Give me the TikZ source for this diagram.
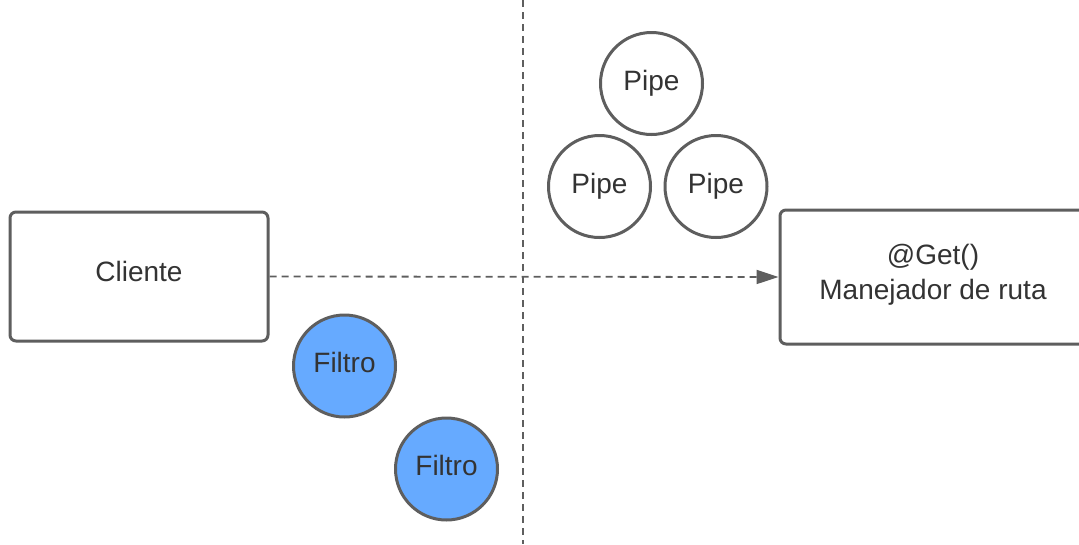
\documentclass[tikz,border=0pt]{standalone}
\usepackage{fontspec}
\setmainfont{Liberation Sans}
\usetikzlibrary{arrows.meta}
\definecolor{edge}{HTML}{5E5E5E}
\definecolor{ink}{HTML}{333333}
\definecolor{filterblue}{HTML}{66AAFF}
\begin{document}
\begin{tikzpicture}[x=1pt,y=-1pt,
  every node/.style={text=ink,font=\fontsize{28}{33}\selectfont},
  box/.style={draw=edge,line width=3pt,rounded corners=6pt,fill=white,inner sep=0pt},
  pipe/.style={circle,draw=edge,line width=3pt,fill=white,minimum size=102pt,inner sep=0pt,
    text height=20pt,text depth=7pt},
  filter/.style={pipe,fill=filterblue},
  guide/.style={draw=edge,line width=1.8pt,dash pattern=on 7pt off 5pt}]
  \useasboundingbox (0,0) rectangle (1079,544);
  \begin{scope}
    \clip (0,0) rectangle (1079,544);
    % divider
    \coordinate (topdiv) at (523,0);
    \coordinate (botdiv) at (523,544);
    \draw[guide] (topdiv) -- (botdiv);
    % boxes
    \node[box,minimum width=258pt,minimum height=129pt] (client) at (139,276.5) {};
    \node (clienttext) at (139,271) {Cliente};
    \node[box,minimum width=306pt,minimum height=134pt] (handler) at (933,277) {};
    \node[align=center,font=\fontsize{28}{35}\selectfont] (handlertext) at (933,275) {@Get()\\Manejador de ruta};
    % request
    \draw[guide,-{Triangle[length=22pt,width=14pt]}] (client.east) -- (handler.west);
    % pipes
    \node[pipe] (p1) at (651.5,83.5) {Pipe};
    \node[pipe] (p2) at (599.5,186.5) {Pipe};
    \node[pipe] (p3) at (716,186.5) {Pipe};
    % filters
    \node[filter] (f1) at (344.5,366) {Filtro};
    \node[filter] (f2) at (446.5,469) {Filtro};
  \end{scope}
\end{tikzpicture}
\end{document}
